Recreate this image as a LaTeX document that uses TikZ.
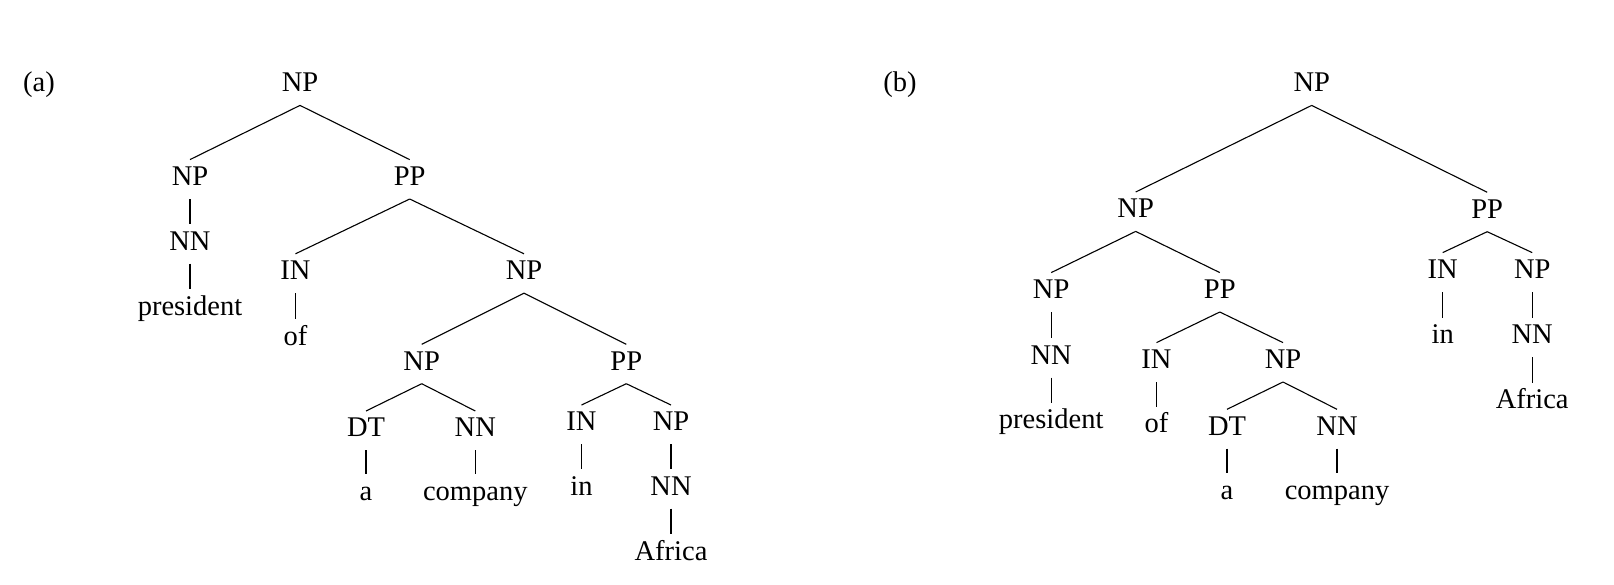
\documentclass[tikz,border=0pt]{standalone}
\usepackage{fontspec}
\setmainfont{Liberation Serif}
\begin{document}
\begin{tikzpicture}[x=1pt,y=-1pt,
  lbl/.style={anchor=base,font=\fontsize{28.5}{30}\selectfont,text height=18.5pt,text depth=6.5pt,inner xsep=2pt,inner ysep=7pt},
  edge/.style={draw=black,line width=1.1pt}]
\useasboundingbox (0,0) rectangle (1614,584);
% ---------- tree (a)
\node[lbl] (la) at (39,91.7) {(a)};
\node[lbl] (a1) at (300,91.7) {NP};
\node[lbl] (a2) at (190,185.3) {NP};
\node[lbl] (a3) at (409.7,185.3) {PP};
\node[lbl] (a4) at (190,250) {NN};
\node[lbl] (a5) at (190,315) {president};
\node[lbl] (a6) at (295.5,279.5) {IN};
\node[lbl] (a7) at (295.5,345) {of};
\node[lbl] (a8) at (524,279.5) {NP};
\node[lbl] (a9) at (421.7,370) {NP};
\node[lbl] (a10) at (626.3,370) {PP};
\node[lbl] (a11) at (366,436.7) {DT};
\node[lbl] (a12) at (475.3,436.7) {NN};
\node[lbl] (a13) at (366,500) {a};
\node[lbl] (a14) at (475.3,500) {company};
\node[lbl] (a15) at (581.5,430.7) {IN};
\node[lbl] (a16) at (581.5,495) {in};
\node[lbl] (a17) at (671,430.7) {NP};
\node[lbl] (a18) at (671,495) {NN};
\node[lbl] (a19) at (671,560) {Africa};
\foreach \p/\c in {a1/a2,a1/a3,a2/a4,a4/a5,a3/a6,a3/a8,a6/a7,a8/a9,a8/a10,a9/a11,a9/a12,a11/a13,a12/a14,a10/a15,a10/a17,a15/a16,a17/a18,a18/a19}
  \draw[edge] (\p.south) -- (\c.north);
% ---------- tree (b)
\node[lbl] (lb) at (900,91.7) {(b)};
\node[lbl] (b1) at (1311.7,91.7) {NP};
\node[lbl] (b2) at (1135.7,217.7) {NP};
\node[lbl] (b3) at (1487.2,218) {PP};
\node[lbl] (b4) at (1051.2,298.3) {NP};
\node[lbl] (b5) at (1219.8,298.3) {PP};
\node[lbl] (b6) at (1051.2,364) {NN};
\node[lbl] (b7) at (1051.2,428.3) {president};
\node[lbl] (b8) at (1156.5,368.3) {IN};
\node[lbl] (b9) at (1156.5,432.7) {of};
\node[lbl] (b10) at (1283,368.3) {NP};
\node[lbl] (b11) at (1227,435) {DT};
\node[lbl] (b12) at (1337,435) {NN};
\node[lbl] (b13) at (1227,499) {a};
\node[lbl] (b14) at (1337,499) {company};
\node[lbl] (b15) at (1442.7,278.3) {IN};
\node[lbl] (b16) at (1442.7,343.3) {in};
\node[lbl] (b17) at (1532.2,278.3) {NP};
\node[lbl] (b18) at (1532.2,343.3) {NN};
\node[lbl] (b19) at (1532.2,408.3) {Africa};
\foreach \p/\c in {b1/b2,b1/b3,b2/b4,b2/b5,b4/b6,b6/b7,b5/b8,b5/b10,b8/b9,b10/b11,b10/b12,b11/b13,b12/b14,b3/b15,b3/b17,b15/b16,b17/b18,b18/b19}
  \draw[edge] (\p.south) -- (\c.north);
\end{tikzpicture}
\end{document}
